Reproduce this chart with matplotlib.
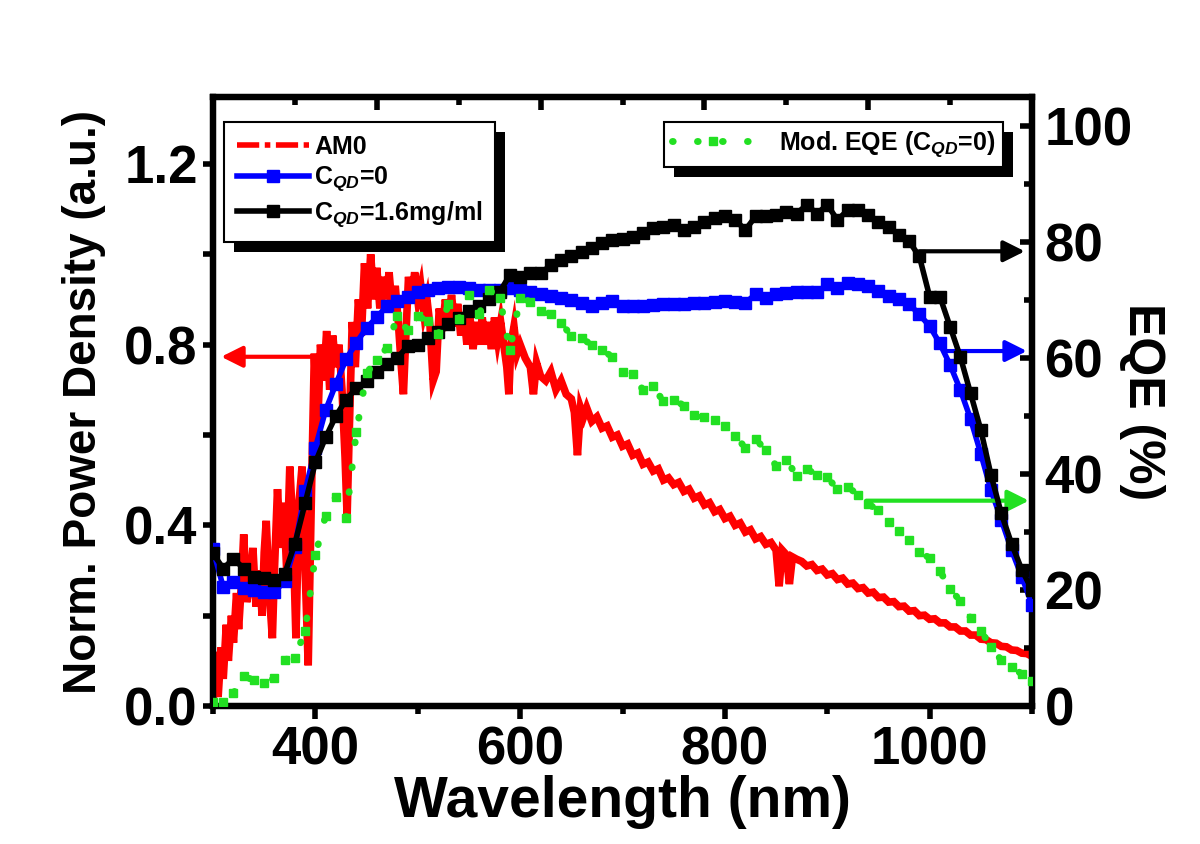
import numpy as np
import matplotlib
matplotlib.use('Agg')
import matplotlib.pyplot as plt
from matplotlib.lines import Line2D
from matplotlib.patches import Rectangle

plt.rcParams['font.family'] = ['Liberation Sans', 'DejaVu Sans']
plt.rcParams['font.weight'] = 'bold'
plt.rcParams['mathtext.fontset'] = 'custom'
plt.rcParams['mathtext.rm'] = 'Liberation Sans:bold'
plt.rcParams['mathtext.it'] = 'Liberation Sans:italic:bold'
plt.rcParams['mathtext.bf'] = 'Liberation Sans:bold'

# AM0 spectrum (normalised)
am0_wl = [300, 302, 305, 308, 310, 313, 315, 318, 320, 323, 325, 328, 330, 333, 336, 339,
          342, 345, 348, 350, 352, 355, 358, 360, 363, 366, 369, 372, 375, 378, 381, 384,
          387, 390, 393, 396, 399, 402, 405, 408, 411, 414, 417, 420, 423, 426, 429, 431,
          433, 436, 439, 442, 445, 448, 451, 454, 457, 460, 463, 466, 469, 472, 475, 478,
          481, 484, 486, 488, 491, 494, 497, 500, 503, 506, 509, 512, 515, 518, 521, 524,
          527, 530, 533, 536, 539, 542, 545, 548, 551, 554, 557, 560, 563, 566, 569, 572,
          575, 578, 581, 584, 587, 589, 591, 594, 597, 600, 605, 610, 613, 616, 620, 625,
          630, 635, 640, 645, 650, 653, 656, 659, 662, 665, 670, 675, 680, 685, 690, 695,
          700, 705, 710, 715, 720, 725, 730, 735, 740, 745, 750, 755, 760, 765, 770, 775,
          780, 785, 790, 795, 800, 805, 810, 815, 820, 825, 830, 835, 840, 845, 850, 853,
          856, 860, 863, 866, 870, 875, 880, 885, 890, 895, 900, 905, 910, 915, 920, 925,
          930, 935, 940, 945, 950, 955, 960, 965, 970, 975, 980, 985, 990, 995, 1000, 1005,
          1010, 1015, 1020, 1025, 1030, 1035, 1040, 1045, 1050, 1055, 1060, 1065, 1070, 1075,
          1080, 1085, 1090, 1095, 1100]
am0_val = [0.0, 0.12, 0.02, 0.13, 0.06, 0.18, 0.10, 0.20, 0.14, 0.25, 0.17, 0.28, 0.38, 0.23, 0.27, 0.35,
           0.22, 0.30, 0.20, 0.34, 0.41, 0.25, 0.15, 0.30, 0.48, 0.35, 0.45, 0.30, 0.53, 0.40, 0.15, 0.45,
           0.53, 0.30, 0.09, 0.45, 0.78, 0.60, 0.80, 0.72, 0.83, 0.70, 0.82, 0.75, 0.80, 0.70, 0.55, 0.42,
           0.60, 0.85, 0.75, 0.90, 0.82, 0.98, 0.88, 1.00, 0.90, 0.97, 0.88, 0.95, 0.90, 0.96, 0.88, 0.93,
           0.85, 0.75, 0.69, 0.80, 0.95, 0.90, 0.96, 0.90, 0.93, 0.87, 0.90, 0.84, 0.72, 0.74, 0.88, 0.83,
           0.90, 0.85, 0.91, 0.84, 0.89, 0.82, 0.87, 0.80, 0.86, 0.79, 0.85, 0.80, 0.86, 0.80, 0.85, 0.79,
           0.86, 0.81, 0.85, 0.80, 0.75, 0.69, 0.80, 0.84, 0.78, 0.80, 0.77, 0.75, 0.69, 0.76, 0.73, 0.72,
           0.74, 0.70, 0.72, 0.69, 0.68, 0.65, 0.555, 0.66, 0.64, 0.66, 0.63, 0.64, 0.615, 0.62, 0.595, 0.60,
           0.575, 0.58, 0.555, 0.56, 0.535, 0.54, 0.52, 0.525, 0.50, 0.505, 0.49, 0.495, 0.475, 0.48, 0.46, 0.465,
           0.445, 0.45, 0.43, 0.435, 0.415, 0.42, 0.40, 0.405, 0.385, 0.39, 0.37, 0.375, 0.358, 0.362, 0.345, 0.265,
           0.345, 0.335, 0.27, 0.33, 0.325, 0.32, 0.31, 0.313, 0.30, 0.303, 0.29, 0.293, 0.28, 0.283, 0.27, 0.272,
           0.26, 0.262, 0.25, 0.252, 0.24, 0.241, 0.23, 0.231, 0.22, 0.221, 0.21, 0.211, 0.20, 0.201, 0.192, 0.193,
           0.184, 0.184, 0.175, 0.175, 0.166, 0.166, 0.157, 0.157, 0.148, 0.147, 0.14, 0.139, 0.132, 0.131,
           0.124, 0.123, 0.117, 0.116, 0.11]

# EQE curves, 10 nm steps
eqe_wl = list(range(300, 1101, 10))
eqe_c0 = [27.0, 20.5, 21.4, 20.3, 20.0, 19.7, 19.7, 21.5, 27.5, 37.0, 44.5, 51.0, 55.5, 59.8, 62.6, 65.2,
          67.0, 69.0, 69.9, 70.5, 71.3, 71.8, 72.1, 72.2, 72.2, 72.0, 71.8, 71.7, 71.7, 72.0, 71.8, 71.4,
          71.1, 70.7, 70.4, 70.0, 69.5, 69.0, 69.4, 69.8, 69.0, 69.0, 69.0, 69.1, 69.3, 69.3, 69.3, 69.4,
          69.5, 69.6, 69.8, 69.6, 69.5, 71.0, 70.4, 71.0, 71.2, 71.3, 71.3, 71.3, 72.7, 72.1, 73.0, 72.7,
          72.4, 71.6, 70.7, 70.1, 69.3, 67.5, 65.5, 62.5, 58.8, 54.5, 49.5, 43.5, 37.2, 32.1, 26.9, 22.3, 17.5]
eqe_c16 = [26.3, 23.7, 25.4, 23.7, 22.2, 22.0, 21.7, 22.8, 28.0, 35.0, 42.0, 46.3, 50.0, 52.8, 54.8, 56.0,
           57.5, 59.0, 60.0, 62.0, 62.2, 63.4, 64.5, 65.8, 66.9, 68.1, 69.0, 70.1, 71.4, 74.3, 74.0, 74.6,
           74.6, 76.0, 76.9, 77.5, 78.3, 78.9, 79.8, 80.3, 80.6, 80.9, 81.5, 82.4, 82.6, 82.9, 82.1, 82.6,
           83.5, 84.1, 84.4, 83.8, 82.1, 84.4, 84.4, 84.7, 85.2, 84.9, 86.4, 84.9, 86.4, 83.8, 85.5, 85.5,
           84.7, 83.5, 82.6, 81.2, 80.1, 77.5, 70.6, 70.6, 65.4, 60.2, 53.9, 47.6, 39.8, 33.2, 28.0, 23.5, 20.0]
mod_eqe = [0.7, 0.7, 2.2, 5.2, 4.4, 3.9, 4.8, 8.0, 8.3, 13.0, 26.0, 32.8, 36.1, 32.5, 47.2, 57.4,
           59.7, 61.8, 67.2, 64.8, 67.2, 66.4, 64.1, 69.3, 66.7, 70.9, 67.6, 71.7, 70.4, 61.4, 70.4, 69.7,
           68.1, 67.6, 66.1, 63.8, 63.5, 62.2, 61.4, 60.2, 57.5, 57.2, 54.5, 55.1, 52.5, 52.8, 51.8, 50.2,
           49.8, 49.3, 48.3, 46.6, 44.5, 46.0, 44.1, 41.4, 42.5, 39.7, 40.8, 39.9, 39.4, 37.4, 37.8, 36.4,
           34.8, 33.8, 31.8, 30.2, 28.6, 26.6, 25.5, 23.3, 20.2, 18.1, 15.2, 13.0, 10.2, 7.9, 6.8, 5.5, 4.3]

red = '#ff0000'
blue = '#0000ff'
green = '#22e022'

fig = plt.figure(figsize=(12, 8.44), dpi=100)
ax1 = fig.add_axes([213 / 1200, 1 - 706 / 844, (1032 - 213) / 1200, (706 - 97) / 844])
ax2 = ax1.twinx()

ax1.plot(am0_wl, am0_val, color=red, lw=5.5, solid_joinstyle='miter', zorder=2)
ax2.plot(eqe_wl, eqe_c0, color=blue, lw=4, marker='s', ms=8.5, zorder=3)
ax2.plot(eqe_wl, eqe_c16, color='black', lw=4, marker='s', ms=8.5, zorder=4)
ax2.plot(eqe_wl, mod_eqe, color=green, lw=5, ls=(0, (0.1, 3.5)), dash_capstyle='round',
         marker='s', ms=5.5, zorder=5)

ax1.set_xlim(300, 1100)
ax1.set_ylim(0, 1.348)
ax2.set_ylim(0, 105)

ax1.set_xticks([400, 600, 800, 1000])
ax1.set_xticks([300, 500, 700, 900, 1100], minor=True)
ax1.set_yticks([0, 0.4, 0.8, 1.2])
ax1.set_yticks([0.2, 0.6, 1.0], minor=True)
ax1.set_yticklabels(['0.0', '0.4', '0.8', '1.2'])
ax2.set_yticks([0, 20, 40, 60, 80, 100])
ax2.set_yticks([10, 30, 50, 70, 90], minor=True)

for sp in ax1.spines.values():
    sp.set_linewidth(4.5)
for sp in ax2.spines.values():
    sp.set_linewidth(4.5)

ax1.tick_params(axis='x', which='major', direction='out', length=9, width=4, labelsize=38, pad=5, top=False)
ax1.tick_params(axis='x', which='minor', direction='out', length=6, width=4, top=False)
ax1.tick_params(axis='y', which='both', direction='out', length=7, width=4, labelsize=38, pad=4)
ax2.tick_params(axis='y', which='both', direction='in', width=4, labelsize=38, pad=9)
ax2.tick_params(axis='y', which='major', length=9)
ax2.tick_params(axis='y', which='minor', length=6)

ax1.set_xlabel('Wavelength (nm)', fontsize=41, fontweight='bold', labelpad=0)
ax1.set_ylabel('Norm. Power Density (a.u.)', fontsize=33, fontweight='bold')
ax1.yaxis.set_label_coords(-0.131, 0.5)
ax2.set_ylabel('EQE (%)', fontsize=36, fontweight='bold', rotation=270)
ax2.yaxis.set_label_coords(1.162, 0.5)

# inward ticks along the top, ten divisions
ax3 = fig.add_axes(ax1.get_position(), frameon=False)
ax3.set_xlim(0, 10)
ax3.set_xticks([2, 4, 6, 8])
ax3.set_xticks([1, 3, 5, 7, 9], minor=True)
ax3.set_yticks([])
ax3.tick_params(which='both', direction='in', width=4, bottom=False, top=True,
                labelbottom=False, labeltop=False)
ax3.tick_params(which='major', length=9)
ax3.tick_params(which='minor', length=6)
ax3.patch.set_visible(False)

# arrows pointing to the axis of each curve
arrow_kw = dict(arrowstyle='-|>', lw=3, mutation_scale=32, shrinkA=0, shrinkB=0)
ax1.annotate('', xy=(308, 0.773), xytext=(402, 0.773), arrowprops=dict(color=red, **arrow_kw))
ax2.annotate('', xy=(1093, 78.4), xytext=(990, 78.4), arrowprops=dict(color='black', **arrow_kw))
ax2.annotate('', xy=(1095, 61.2), xytext=(1016, 61.2), arrowprops=dict(color=blue, **arrow_kw))
ax2.annotate('', xy=(1097, 35.4), xytext=(938, 35.4), arrowprops=dict(color=green, **arrow_kw))

# legends
h_am0 = Line2D([], [], color=red, lw=4, ls=(0, (4, 1, 1, 1)))
h_c0 = Line2D([], [], color=blue, lw=4, marker='s', ms=8.5)
h_c16 = Line2D([], [], color='black', lw=4, marker='s', ms=8.5)
h_mod = Line2D([], [], color=green, lw=5, ls=(0, (0.1, 3.5)), dash_capstyle='round', marker='s', ms=5.5)

leg1 = ax2.legend([h_am0, h_c0, h_c16], ['AM0', r'C$_{\mathit{QD}}$=0', r'C$_{\mathit{QD}}$=1.6mg/ml'],
                  loc='upper left', bbox_to_anchor=(224 / 1200, 1 - 122 / 844), bbox_transform=fig.transFigure,
                  borderaxespad=0, fancybox=False, framealpha=1, edgecolor='black', handlelength=2.9,
                  handletextpad=0.2, labelspacing=0.25, borderpad=0.5, numpoints=1,
                  prop={'size': 18, 'weight': 'bold'})
leg1.get_frame().set_linewidth(1.5)
ax2.add_artist(leg1)
leg2 = ax2.legend([h_mod], [r'Mod. EQE (C$_{\mathit{QD}}$=0)'],
                  loc='upper right', bbox_to_anchor=(1003 / 1200, 1 - 122 / 844), bbox_transform=fig.transFigure,
                  borderaxespad=0, fancybox=False, framealpha=1, edgecolor='black', handlelength=3.3,
                  handletextpad=1.0, borderpad=0.3, numpoints=1,
                  prop={'size': 18, 'weight': 'bold'})
leg2.get_frame().set_linewidth(1.5)

# black drop shadows behind the legend boxes
fig.canvas.draw()
for lg in (leg1, leg2):
    bb = lg.get_frame().get_window_extent()
    ax2.add_patch(Rectangle((bb.x0 + 10, bb.y0 - 10), bb.width, bb.height, transform=None,
                            facecolor='black', edgecolor='none', zorder=4.9, clip_on=False))
leg1.set_zorder(6)
leg2.set_zorder(6)

fig.savefig('out.png', dpi=100)
